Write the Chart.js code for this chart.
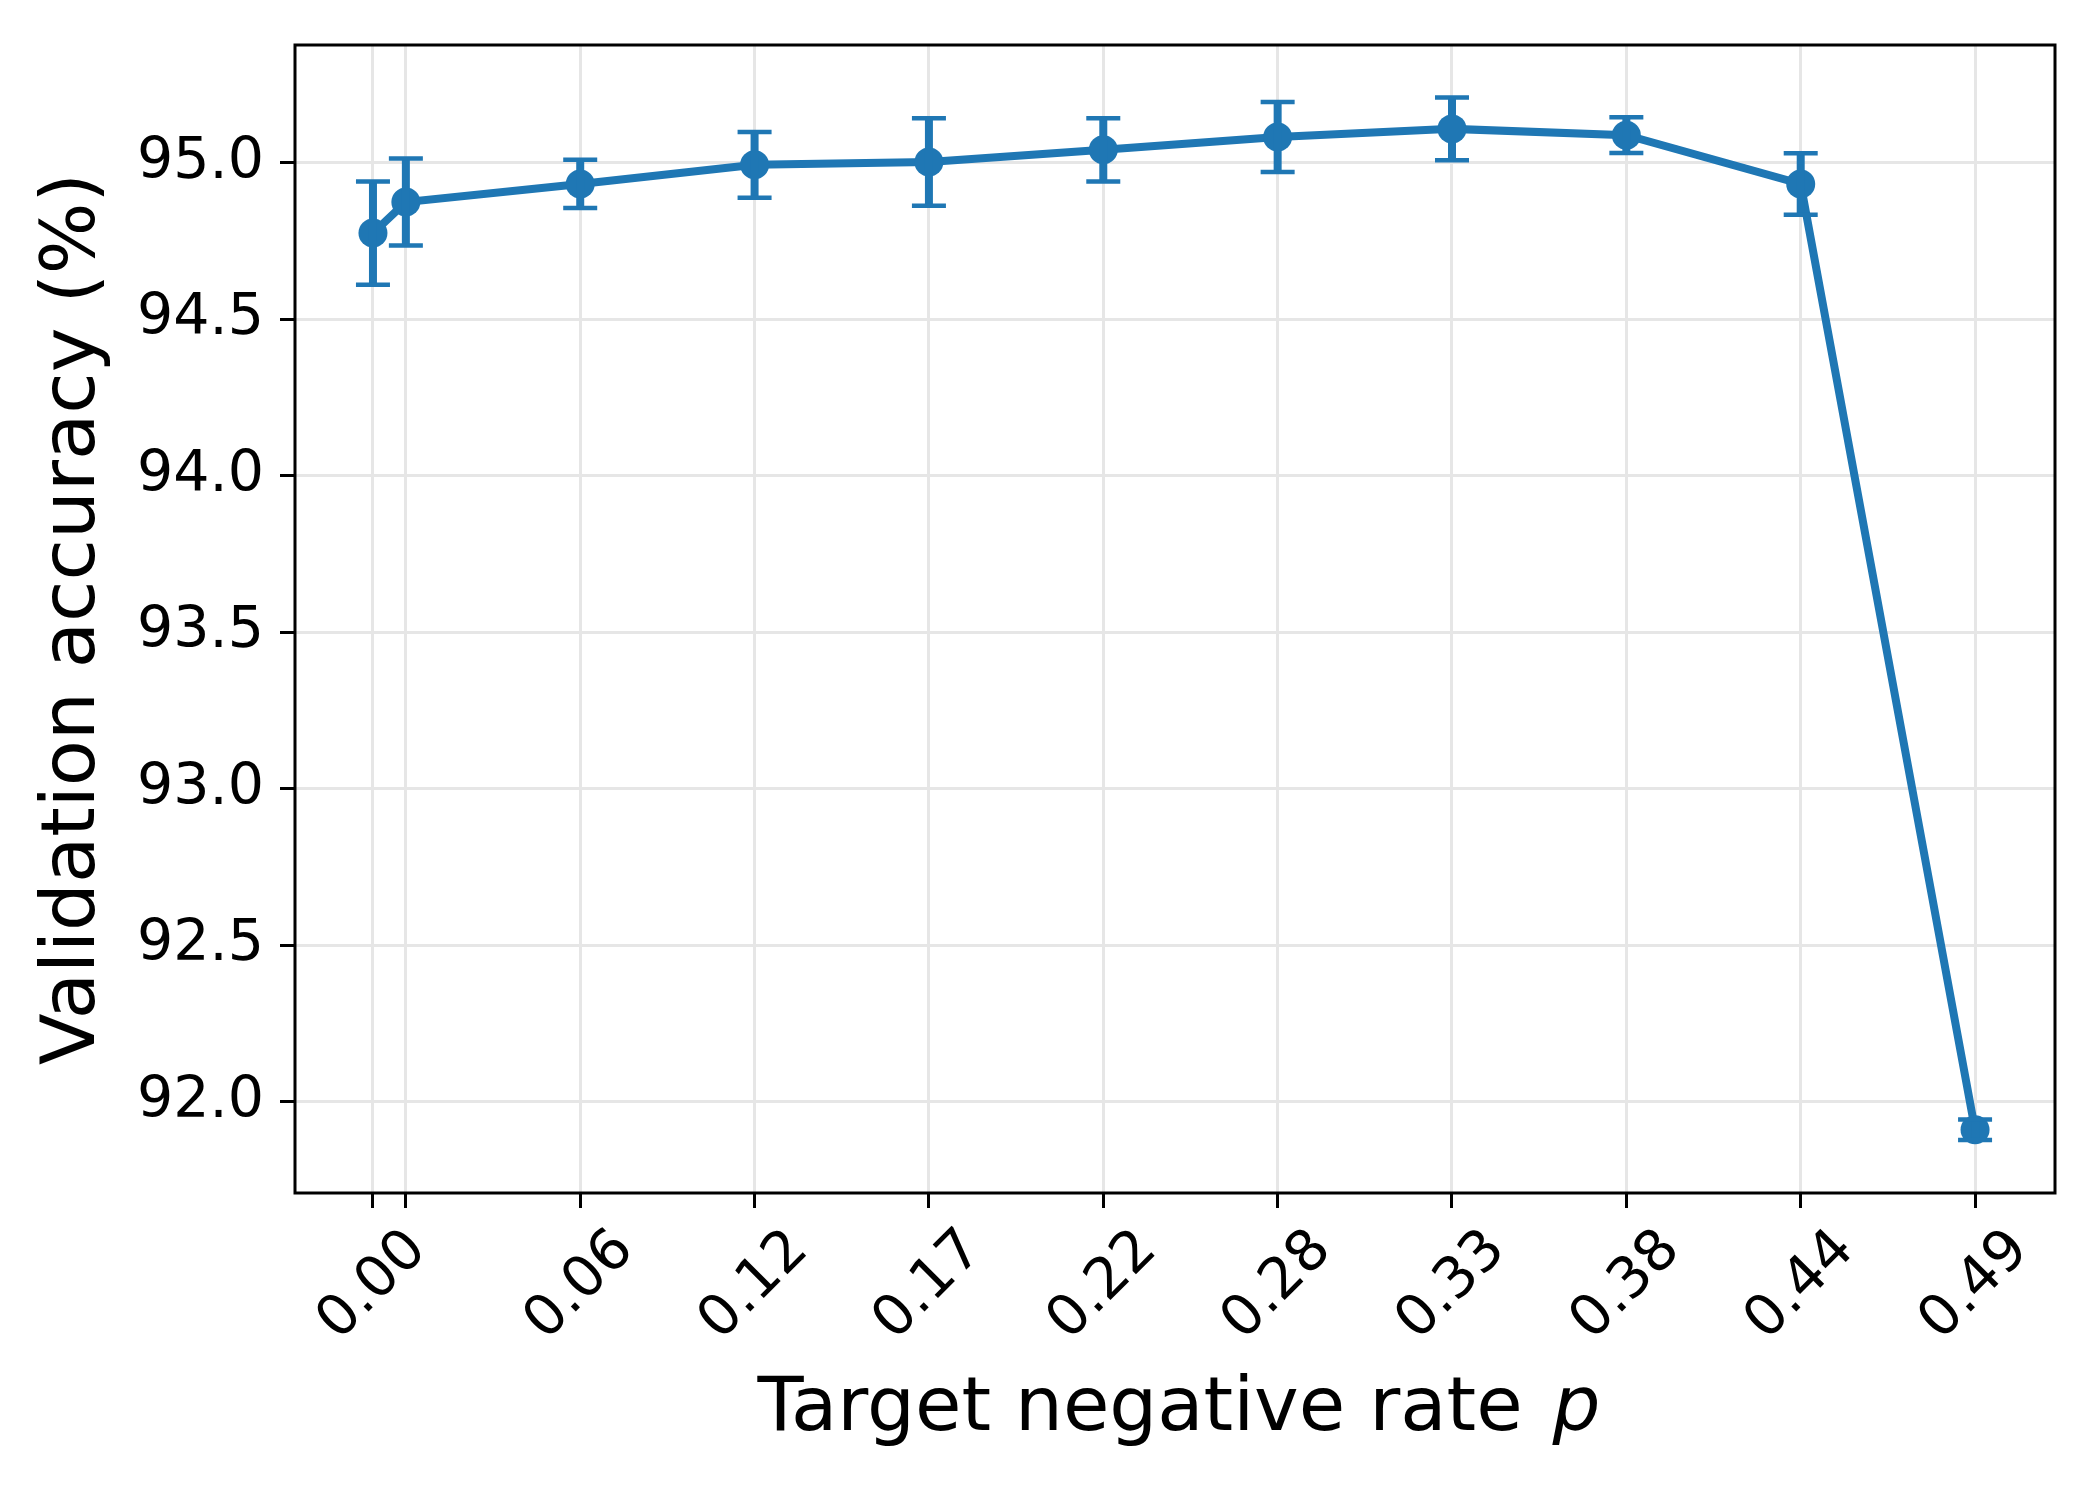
<!DOCTYPE html>
<html><head><meta charset="utf-8">
<script src="https://cdn.jsdelivr.net/npm/chart.js@4"></script>
<style>html,body{margin:0;padding:0;background:#fff;overflow:hidden}canvas{display:block}</style>
</head><body>
<canvas id="c" width="2100" height="1500"></canvas>
<script>
// ---- data ----
const xValues = [0.000, 0.010, 0.063, 0.116, 0.169, 0.222, 0.275, 0.328, 0.381, 0.434, 0.487];
// the reference shows a single "0.00" label for the two leftmost ticks
const xTickLabels = ['0.00', '', '0.06', '0.12', '0.17', '0.22', '0.28', '0.33', '0.38', '0.44', '0.49'];
const accuracy = [94.776, 94.875, 94.933, 94.994, 95.003, 95.042, 95.083, 95.109, 95.089, 94.933, 91.911];
const accuracyErr = [0.165, 0.139, 0.077, 0.105, 0.140, 0.101, 0.112, 0.100, 0.057, 0.098, 0.033];
const yTicks = [92.0, 92.5, 93.0, 93.5, 94.0, 94.5, 95.0];
const xRange = [-0.0237, 0.5113];
const yRange = [91.709, 95.377];
const xTitle = 'Target negative rate ';
const xTitleVar = 'p';
const yTitle = 'Validation accuracy (%)';

const BLUE = '#1f77b4';
Chart.defaults.font.family = "'DejaVu Sans'";
Chart.defaults.color = '#000';

const whiteBg = {
  id: 'whiteBg',
  beforeDraw(chart) {
    const c = chart.ctx;
    c.save(); c.fillStyle = '#fff'; c.fillRect(0, 0, chart.width, chart.height); c.restore();
  }
};

const errorBars = {
  id: 'errorBars',
  afterDatasetsDraw(chart) {
    const { ctx, scales: { x, y } } = chart;
    ctx.save();
    ctx.strokeStyle = BLUE;
    xValues.forEach((xv, i) => {
      const px = x.getPixelForValue(xv);
      const top = y.getPixelForValue(accuracy[i] + accuracyErr[i]);
      const bot = y.getPixelForValue(accuracy[i] - accuracyErr[i]);
      ctx.lineWidth = 8;
      ctx.beginPath(); ctx.moveTo(px, top); ctx.lineTo(px, bot); ctx.stroke();
      ctx.lineWidth = 4.5;
      ctx.beginPath();
      ctx.moveTo(px - 17, top); ctx.lineTo(px + 17, top);
      ctx.moveTo(px - 17, bot); ctx.lineTo(px + 17, bot);
      ctx.stroke();
    });
    ctx.restore();
  }
};

const frameAndTitle = {
  id: 'frameAndTitle',
  afterDraw(chart) {
    const { ctx, chartArea: a } = chart;
    ctx.save();
    ctx.strokeStyle = '#000';
    ctx.lineWidth = 3;
    ctx.strokeRect(a.left, a.top, a.right - a.left, a.bottom - a.top);
    // x axis title with italic variable
    const fN = "75.5px 'DejaVu Sans'";
    const fI = "italic 75.5px 'DejaVu Sans'";
    ctx.font = fN; const w1 = ctx.measureText(xTitle).width + 6;
    ctx.font = fI; const w2 = ctx.measureText(xTitleVar).width;
    const cx = (a.left + a.right) / 2 + 4;
    const x0 = cx - (w1 + w2) / 2;
    const baseY = 1430;
    ctx.fillStyle = '#000';
    ctx.textBaseline = 'alphabetic';
    ctx.textAlign = 'left';
    ctx.font = fN; ctx.fillText(xTitle, x0, baseY);
    ctx.font = fI; ctx.fillText(xTitleVar, x0 + w1, baseY);
    ctx.restore();
  }
};

const gridOpts = { color: '#e6e6e6', lineWidth: 3, tickColor: '#000', tickWidth: 3, tickLength: 15 };

new Chart(document.getElementById('c'), {
  type: 'scatter',
  data: {
    datasets: [{
      data: xValues.map((x, i) => ({ x, y: accuracy[i] })),
      showLine: true,
      borderColor: BLUE,
      backgroundColor: BLUE,
      borderWidth: 8,
      pointRadius: 14.5,
      pointBorderWidth: 0,
      pointBackgroundColor: BLUE,
      tension: 0
    }]
  },
  options: {
    responsive: false,
    animation: false,
    devicePixelRatio: 1,
    layout: { padding: { left: 0, top: 45, right: 45, bottom: 0 } },
    plugins: { legend: { display: false }, tooltip: { enabled: false } },
    scales: {
      x: {
        type: 'linear',
        min: xRange[0], max: xRange[1],
        afterBuildTicks: s => { s.ticks = xValues.map(v => ({ value: v })); },
        afterFit: s => { s.height = 307; s.paddingLeft = 0; s.paddingRight = 0; },
        ticks: {
          autoSkip: false, minRotation: 45, maxRotation: 45,
          padding: 9, labelOffset: 45,
          font: { size: 57 }, color: '#000',
          callback: (v, i) => xTickLabels[i]
        },
        grid: gridOpts,
        border: { display: false }
      },
      y: {
        min: yRange[0], max: yRange[1],
        afterBuildTicks: s => { s.ticks = yTicks.map(v => ({ value: v })); },
        afterFit: s => { s.width = 295; s.paddingTop = 0; s.paddingBottom = 0; },
        ticks: { padding: 16, font: { size: 57 }, color: '#000', callback: v => Number(v).toFixed(1) },
        grid: gridOpts,
        border: { display: false },
        title: { display: true, text: yTitle, font: { size: 75.5, lineHeight: 1.2 }, color: '#000', padding: { top: 29, bottom: 0 } }
      }
    }
  },
  plugins: [whiteBg, errorBars, frameAndTitle]
});
</script>
</body></html>
